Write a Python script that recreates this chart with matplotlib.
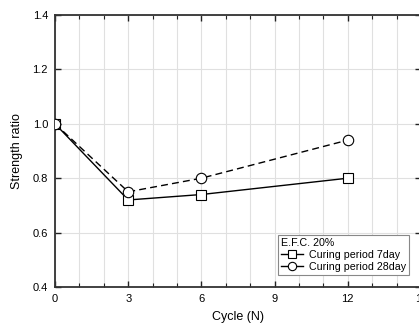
import matplotlib
matplotlib.use("Agg")
import matplotlib.pyplot as plt
from matplotlib.ticker import MultipleLocator, FormatStrFormatter

plt.rcParams['font.family'] = ['Liberation Sans', 'DejaVu Sans']

cycles = [0, 3, 6, 12]
cure_7day = [1.0, 0.72, 0.74, 0.80]
cure_28day = [1.0, 0.75, 0.80, 0.94]
legend_title = "E.F.C. 20%"
labels = ["Curing period 7day", "Curing period 28day"]

fig = plt.figure(figsize=(4.19, 3.26), dpi=100)
ax = fig.add_axes([55/419, 1-287/326, 366/419, (287-15)/326])

ax.plot(cycles, cure_7day, '-', color='black', lw=1.0, marker='s', ms=7,
        mfc='white', mec='black', mew=0.8, label=labels[0], zorder=3)
ax.plot(cycles, cure_28day, '--', color='black', lw=1.0, marker='o', ms=7.5,
        mfc='white', mec='black', mew=0.8, label=labels[1], dashes=(5, 3), zorder=3)

ax.set_xlim(0, 15)
ax.set_ylim(0.4, 1.4)
ax.xaxis.set_major_locator(MultipleLocator(3))
ax.xaxis.set_minor_locator(MultipleLocator(1))
ax.yaxis.set_major_locator(MultipleLocator(0.2))
ax.yaxis.set_major_formatter(FormatStrFormatter('%.1f'))

ax.grid(True, which='major', axis='y', color='#e0e0e0', lw=0.8)
ax.grid(True, which='both', axis='x', color='#e0e0e0', lw=0.8)
ax.set_axisbelow(True)

ax.tick_params(which='both', direction='in', top=True, right=True, labelsize=8, pad=5, color='#222222')
ax.tick_params(which='major', length=4, width=1)
ax.tick_params(which='minor', length=3, width=0.8)
for s in ax.spines.values():
    s.set_linewidth(1.3)
    s.set_color('#333333')

ax.set_xlabel("Cycle (N)", fontsize=9, labelpad=5)
ax.set_ylabel("Strength ratio", fontsize=9, labelpad=7)

leg = ax.legend(title=legend_title, loc='lower right', bbox_to_anchor=(0.966, 0.045),
                fontsize=7.7, title_fontsize=7.7, frameon=True, fancybox=False,
                edgecolor='#888888', framealpha=1, handlelength=2.1, handletextpad=0.5,
                borderpad=0.25, labelspacing=0.2, borderaxespad=0.0, markerscale=0.8)
leg._legend_box.align = "left"
leg.get_frame().set_linewidth(0.8)
for h in leg.legend_handles:
    h.set_linestyle('-')

fig.savefig("out.png", dpi=100)
